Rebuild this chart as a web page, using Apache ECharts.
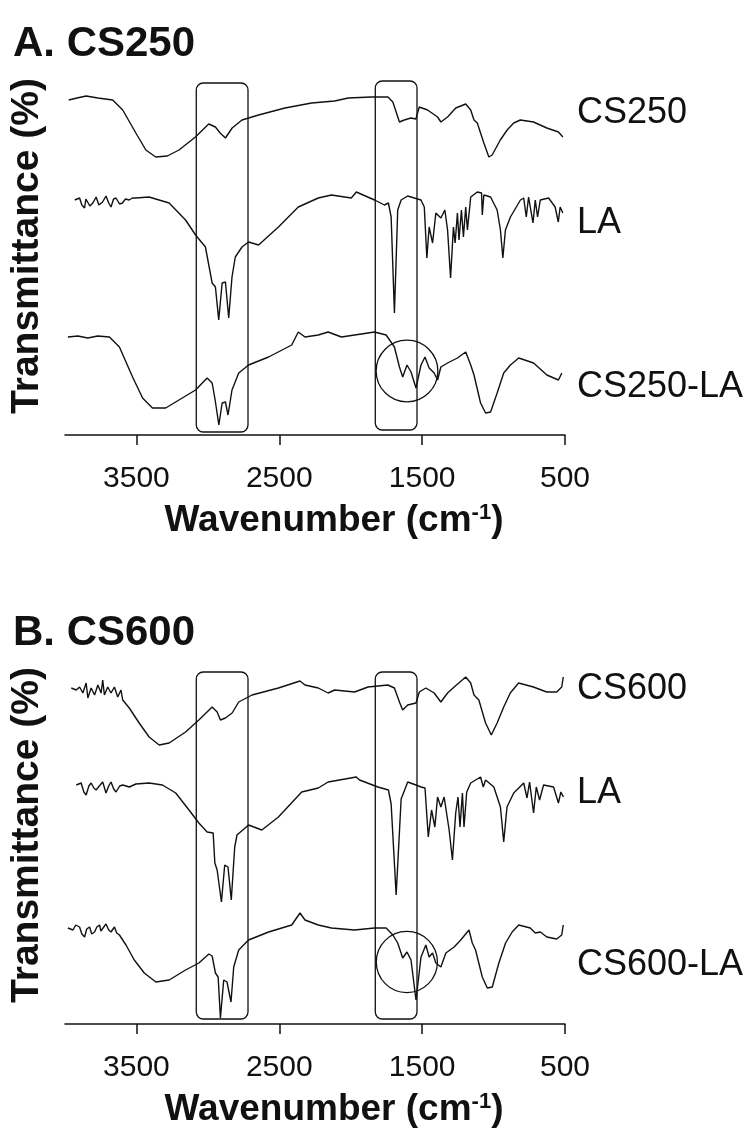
<!DOCTYPE html>
<html>
<head>
<meta charset="utf-8">
<script src="https://cdn.jsdelivr.net/npm/echarts/dist/echarts.min.js"></script>
<style>html,body{margin:0;padding:0;background:#fff}#c{width:753px;height:1133px}</style>
</head>
<body>
<div id="c"></div>
<script>
// ---- Data (wavenumber cm-1, relative transmittance with vertical offsets) ----
const xTicks = [500, 1500, 2500, 3500];
const panelTitles = ['A. CS250', 'B. CS600'];

const cs250 = [[3974,335],[3916,337],[3852,339],[3770,337],[3666,335],[3596,325],[3504,302],[3434,285],[3365,278],[3284,279],[3202,285],[3087,298],[2994,311],[2947,308],[2914,302],[2877,297],[2830,307],[2761,315],[2645,320],[2460,327],[2274,332],[2112,334],[2018,337],[1856,338],[1740,338],[1705,333],[1659,313],[1625,315],[1579,317],[1544,316],[1520,328],[1462,325],[1392,318],[1369,313],[1322,318],[1265,327],[1195,331],[1160,325],[1137,315],[1114,312],[1068,292],[1033,278],[1010,280],[953,295],[905,305],[859,312],[813,315],[720,313],[627,307],[546,303],[534,301],[515,298]];

const laA = [[3932,235],[3898,237],[3882,230],[3863,227],[3854,236],[3840,237],[3826,229],[3805,232],[3782,238],[3763,230],[3737,233],[3713,239],[3694,232],[3678,228],[3660,236],[3643,237],[3618,231],[3598,232],[3577,236],[3551,235],[3528,237],[3505,237],[3412,238],[3271,232],[3156,215],[3086,200],[3017,188],[2970,152],[2947,148],[2924,115],[2900,152],[2877,153],[2854,117],[2831,158],[2808,178],[2761,188],[2715,193],[2645,190],[2506,208],[2367,228],[2227,237],[2135,240],[1996,237],[1961,243],[1833,235],[1764,230],[1736,232],[1717,218],[1694,122],[1671,225],[1647,235],[1601,239],[1555,237],[1508,235],[1485,228],[1467,177],[1451,208],[1427,192],[1404,222],[1369,217],[1341,225],[1322,205],[1301,157],[1281,208],[1269,192],[1253,222],[1242,195],[1225,225],[1211,198],[1195,228],[1183,205],[1160,238],[1114,243],[1084,242],[1079,220],[1068,240],[1021,238],[975,225],[952,205],[935,177],[917,205],[882,218],[812,235],[789,237],[771,218],[755,238],[724,212],[708,235],[692,218],[673,235],[615,237],[569,228],[547,213],[534,228],[515,222]];

const cs250la = [[3980,98],[3910,99],[3841,97],[3771,99],[3689,98],[3619,88],[3527,58],[3457,37],[3388,27],[3295,27],[3179,37],[3086,45],[3005,57],[2970,52],[2949,35],[2923,10],[2900,32],[2877,33],[2859,20],[2831,45],[2784,62],[2715,70],[2575,78],[2413,90],[2367,103],[2320,98],[2227,100],[2158,103],[2065,98],[1833,103],[1752,100],[1694,88],[1659,68],[1636,58],[1606,70],[1578,63],[1543,47],[1508,70],[1480,78],[1451,67],[1416,62],[1392,55],[1369,68],[1322,72],[1253,77],[1195,83],[1160,70],[1137,60],[1091,32],[1056,22],[1021,23],[975,42],[929,62],[882,70],[824,77],[720,72],[627,60],[546,55],[522,62]];

const cs600 = [[3956,336],[3921,334],[3898,337],[3875,331],[3852,341],[3840,326],[3817,336],[3793,329],[3770,339],[3747,331],[3736,344],[3724,329],[3701,337],[3678,331],[3654,337],[3631,327],[3608,334],[3596,324],[3550,316],[3481,301],[3411,287],[3341,279],[3271,281],[3156,292],[3063,304],[2970,317],[2935,312],[2912,304],[2877,306],[2830,311],[2784,322],[2691,329],[2506,336],[2355,343],[2320,339],[2227,336],[2158,331],[2112,334],[1973,332],[1879,337],[1740,339],[1694,336],[1659,322],[1636,314],[1601,319],[1543,321],[1520,332],[1474,336],[1416,331],[1369,322],[1322,331],[1276,337],[1195,347],[1160,341],[1137,329],[1103,324],[1056,301],[1016,289],[975,301],[929,317],[883,331],[825,341],[721,337],[628,332],[558,332],[523,337],[512,347]];

const laB = [[3921,239],[3887,241],[3868,232],[3852,229],[3833,238],[3817,241],[3798,236],[3782,234],[3760,238],[3736,242],[3713,231],[3694,238],[3678,242],[3659,235],[3643,232],[3617,238],[3596,239],[3550,237],[3504,240],[3411,241],[3318,239],[3225,231],[3132,214],[3063,201],[3005,192],[2963,191],[2951,161],[2935,154],[2905,122],[2882,159],[2859,157],[2836,124],[2812,177],[2796,189],[2715,199],[2622,194],[2506,207],[2343,232],[2227,236],[2158,242],[1961,247],[1938,244],[1810,237],[1736,234],[1717,220],[1682,129],[1647,225],[1601,242],[1543,239],[1508,237],[1480,236],[1457,187],[1434,214],[1411,197],[1392,227],[1369,217],[1346,227],[1311,194],[1288,164],[1265,211],[1249,227],[1235,197],[1218,231],[1207,197],[1188,232],[1160,241],[1091,247],[1072,237],[1056,244],[998,237],[952,217],[929,182],[906,217],[859,231],[789,241],[766,226],[748,242],[720,211],[701,237],[678,224],[650,239],[580,237],[546,221],[529,232],[511,227]];

const cs600la = [[3980,96],[3944,94],[3925,99],[3898,97],[3882,90],[3863,87],[3848,95],[3828,97],[3813,90],[3793,92],[3777,97],[3758,99],[3749,93],[3736,91],[3713,100],[3694,94],[3678,92],[3654,97],[3638,91],[3619,89],[3573,79],[3515,64],[3445,51],[3364,42],[3271,44],[3156,54],[3063,61],[2993,70],[2970,68],[2947,51],[2928,47],[2912,6],[2889,44],[2866,42],[2838,22],[2819,57],[2784,74],[2715,84],[2575,92],[2413,99],[2355,111],[2320,104],[2227,99],[2135,96],[1973,94],[1833,96],[1752,96],[1705,89],[1671,81],[1636,66],[1606,72],[1578,64],[1543,24],[1508,67],[1474,79],[1451,67],[1427,71],[1404,61],[1369,57],[1334,71],[1276,77],[1230,84],[1172,94],[1149,81],[1126,74],[1079,47],[1044,36],[1009,37],[963,61],[916,81],[870,92],[824,99],[743,96],[708,91],[673,92],[627,87],[558,85],[523,89],[512,99]];

// series name labels: [name, level]
const labelsA = [['CS250', 322], ['LA', 212], ['CS250-LA', 48]];
const labelsB = [['CS600', 335], ['LA', 231], ['CS600-LA', 59]];

// highlight boxes: [wnLeft, wnRight, bottom, top]
const boxesA = [[3081, 2719, 3, 352], [1828, 1536, 5, 354]];
const boxesB = [[3081, 2719, 5, 352], [1828, 1536, 5, 352]];
// circles: [centerWn, centerLevel, radiusWn]
const circlesA = [[1606, 64, 216]];
const circlesB = [[1607, 62, 214]];

// ---- Chart ----
const ink = '#111111';
const font = 'Liberation Sans, Arial, sans-serif';
const chart = echarts.init(document.getElementById('c'), null, {renderer: 'canvas'});

function xAxisCfg(gi) {
  return {
    type: 'value', gridIndex: gi, min: 500, max: 4000, inverse: true,
    axisLine: {show: true, lineStyle: {color: ink, width: 1.5}},
    axisTick: {show: true, customValues: xTicks, length: 10, lineStyle: {color: ink, width: 1.5}},
    axisLabel: {show: true, customValues: xTicks, color: ink, fontSize: 30, fontFamily: font, margin: 29,
      formatter: v => String(v)},
    splitLine: {show: false},
    name: 'Wavenumber (cm{sup|-1})', nameLocation: 'middle', nameGap: 67,
    nameTextStyle: {color: ink, fontSize: 37, fontWeight: 'bold', fontFamily: font, padding: [0, 0, 0, 38],
      rich: {sup: {fontSize: 22, fontWeight: 'bold', fontFamily: font, color: ink, verticalAlign: 'top', padding: [0, 0, 14, 0]}}}
  };
}
function yAxisCfg(gi) {
  return {
    type: 'value', gridIndex: gi, min: 0, max: 360,
    axisLine: {show: false}, axisTick: {show: false}, axisLabel: {show: false}, splitLine: {show: false},
    name: 'Transmittance (%)', nameLocation: 'middle', nameGap: 18,
    nameTextStyle: {color: ink, fontSize: 39, fontWeight: 'bold', fontFamily: font, padding: [0, 0, 0, 18]}
  };
}
function lineSeries(data, gi) {
  return {type: 'line', xAxisIndex: gi, yAxisIndex: gi, data: data, showSymbol: false, symbol: 'none',
    lineStyle: {color: ink, width: 1.4}, silent: true, animation: false};
}
function labelSeries(labels, gi) {
  return {type: 'scatter', xAxisIndex: gi, yAxisIndex: gi, symbolSize: 0, silent: true, animation: false,
    itemStyle: {opacity: 1},
    data: labels.map(l => ({value: [500, l[1]], name: l[0]})),
    label: {show: true, position: 'right', distance: 12, formatter: p => p.name, opacity: 1,
      color: ink, fontSize: 36, fontFamily: font}};
}
function boxSeries(boxes, gi) {
  return {type: 'custom', xAxisIndex: gi, yAxisIndex: gi, silent: true, animation: false, clip: false,
    data: boxes,
    renderItem: (params, api) => {
      const a = api.coord([api.value(0), api.value(3)]);
      const b = api.coord([api.value(1), api.value(2)]);
      return {type: 'rect', shape: {x: Math.min(a[0], b[0]), y: Math.min(a[1], b[1]),
        width: Math.abs(b[0] - a[0]), height: Math.abs(b[1] - a[1]), r: 7},
        style: {fill: 'none', stroke: ink, lineWidth: 1.3}};
    }};
}
function circleSeries(circles, gi) {
  return {type: 'custom', xAxisIndex: gi, yAxisIndex: gi, silent: true, animation: false, clip: false,
    data: circles,
    renderItem: (params, api) => {
      const c = api.coord([api.value(0), api.value(1)]);
      const r = api.size([api.value(2), 0])[0];
      return {type: 'circle', shape: {cx: c[0], cy: c[1], r: r},
        style: {fill: 'none', stroke: ink, lineWidth: 1.3}};
    }};
}

chart.setOption({
  backgroundColor: '#fff',
  animation: false,
  title: [
    {text: panelTitles[0], left: 8, top: 18, textStyle: {color: ink, fontSize: 42, fontWeight: 'bold', fontFamily: font}},
    {text: panelTitles[1], left: 8, top: 607, textStyle: {color: ink, fontSize: 42, fontWeight: 'bold', fontFamily: font}}
  ],
  grid: [
    {left: 62, right: 188, top: 75, height: 360},
    {left: 62, right: 188, top: 664, height: 360}
  ],
  xAxis: [xAxisCfg(0), xAxisCfg(1)],
  yAxis: [yAxisCfg(0), yAxisCfg(1)],
  series: [
    lineSeries(cs250, 0), lineSeries(laA, 0), lineSeries(cs250la, 0),
    lineSeries(cs600, 1), lineSeries(laB, 1), lineSeries(cs600la, 1),
    boxSeries(boxesA, 0), boxSeries(boxesB, 1),
    circleSeries(circlesA, 0), circleSeries(circlesB, 1),
    labelSeries(labelsA, 0), labelSeries(labelsB, 1)
  ]
});
</script>
</body>
</html>
